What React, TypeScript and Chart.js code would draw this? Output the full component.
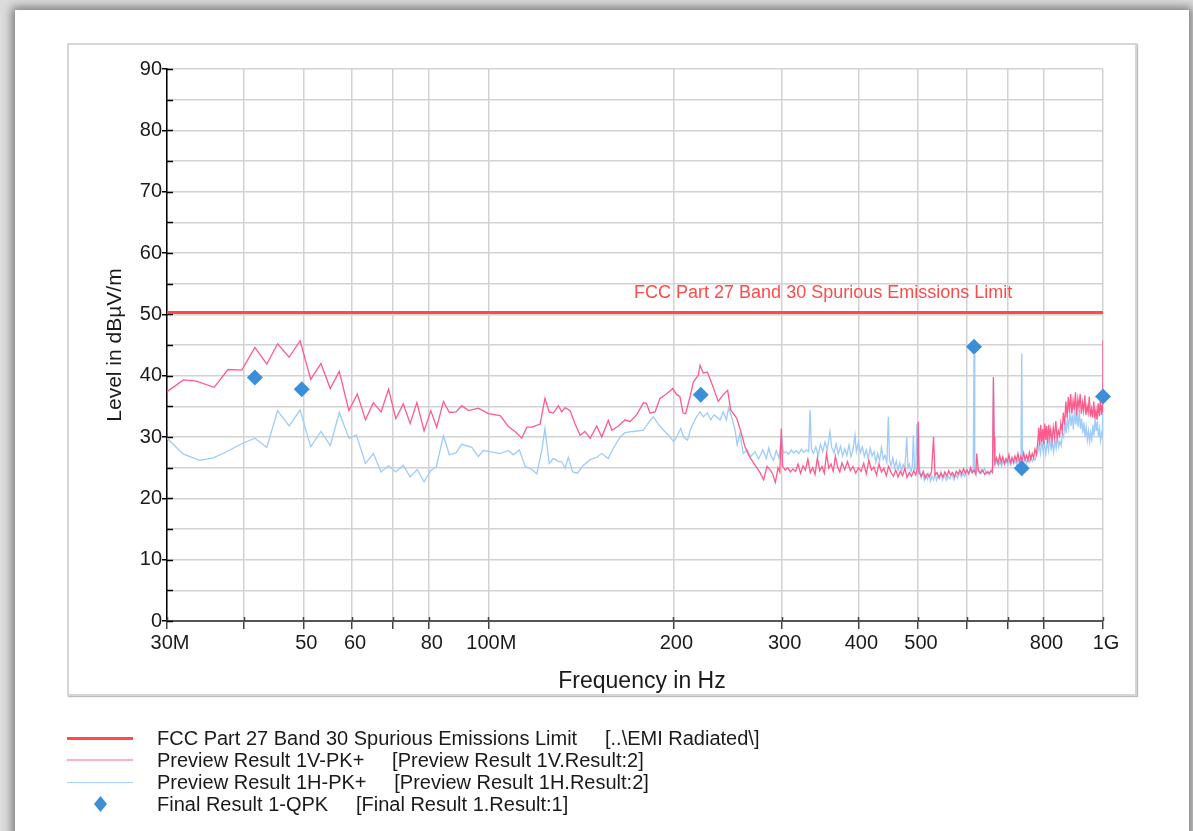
import React, { useEffect, useRef } from "react";
import { Chart, registerables } from "chart.js";

Chart.register(...registerables);

const FONT = '"Liberation Sans", Arial, sans-serif';

// ---- data (frequency in MHz, level in dBµV/m) ----
const limitFreq = [30, 1000];
const limitLevel = [50.3, 50.3];

const vFreq = [
  30, 31.9, 33.5, 35.8, 37.7, 39.7, 41.7, 43.6, 45.4, 47.4, 49.4, 51.4, 53.4, 55.3, 57.2, 59.3,
  61.2, 63.1, 65.0, 66.9, 68.8, 70.7, 72.7, 74.6, 76.5, 78.6, 80.6, 82.4, 84.5, 86.4, 88.6, 90.5,
  92.8, 96.3, 100, 104.5, 107.8, 110.5, 113.3, 115.5, 117.7, 121.4, 123.6, 125.6, 127.6, 130.0,
  131.6, 133.3, 135.8, 138.3, 141.0, 143.6, 146.4, 150.1, 152.9, 156.7, 158.8, 162.7, 166.9,
  170.0, 174.3, 178.7, 180.8, 183.2, 186.7, 190.2, 192.7, 195.2, 199.5, 202.5, 204.9, 207.4,
  209.4, 212.9, 215.6, 219.6, 221.0, 223.7, 227.1, 230.8, 236.6, 241.0, 245.1, 247.9, 253.5,
  257.5, 261.5, 266, 271.6, 277, 280.5, 284, 287.6,
  290, 293, 296, 298, 299.6, 301, 304, 307, 310, 313, 316, 319, 322, 325, 328, 331, 334, 337,
  340, 343, 346, 349, 352, 355, 358, 361, 364, 367, 370, 373, 376, 380, 384, 388, 392, 396,
  400, 404, 408, 412, 416, 420, 424, 428, 432, 436, 440, 444, 448, 452, 456, 460, 464, 468,
  472, 476, 480, 484, 488, 492, 496, 499, 500.5, 502, 506, 510, 514, 518, 522, 526, 530, 533,
  537, 541, 545, 549, 553, 557, 561, 565, 569, 573, 577, 581, 585, 589, 593, 597, 601, 605,
  609, 613, 617, 621, 623, 627, 632, 637, 642, 647, 652, 657, 661, 663.3, 665, 667, 671, 675,
  679, 683, 687, 691, 695, 699, 703, 707, 711, 715, 719, 723, 727, 731, 735, 739, 743, 747,
  751, 755, 759, 763, 767, 771, 775, 779, 783, 786, 789, 792, 795, 798, 801, 804, 807, 810,
  813, 816, 819, 822, 826, 830, 834, 838, 842, 846, 850, 854, 858, 862, 866, 870, 874, 878,
  882, 886, 890, 894, 898, 902, 906, 910, 914, 918, 922, 926, 930, 934, 938, 942, 946, 950,
  954, 958, 962, 966, 970, 974, 978, 982, 986, 990, 994, 997, 999, 1000,
];
const vLevel = [
  37.4, 39.3, 39.1, 38.1, 41.0, 40.9, 44.6, 41.9, 45.2, 43.0, 45.7, 39.4, 42.0, 37.9, 40.7, 34.3,
  37.0, 32.8, 35.6, 34.1, 37.8, 33.0, 35.4, 32.2, 35.6, 31.0, 34.3, 31.6, 35.8, 34.0, 34.1, 35.1,
  34.3, 34.7, 33.8, 33.5, 31.7, 30.9, 29.8, 31.6, 31.6, 32.1, 36.3, 34.1, 33.9, 35.1,
  34.1, 34.8, 34.3, 32.2, 30.3, 30.9, 29.8, 31.8, 30.0, 32.7, 31.1, 31.8, 32.8,
  32.5, 33.6, 35.6, 35.5, 33.9, 34.1, 36.3, 36.7, 37.1, 37.9, 36.9, 36.6, 33.9,
  33.8, 36.6, 39.0, 40.1, 41.7, 40.4, 40.6, 38.8, 35.8, 36.9, 37.6, 34.4, 33.1,
  30.9, 28.4, 26.8, 25.4, 24.1, 23.0, 25.2, 24.6,
  24.0, 22.6, 25.0, 24.3, 31.4, 25.3, 24.6, 25.0, 24.3, 24.8, 24.4, 25.6, 24.1, 25.3, 24.6, 26.4, 24.2, 25.0,
  23.9, 26.6, 24.5, 25.2, 24.1, 27.3, 24.9, 25.6, 24.4, 26.9, 25.1, 24.3, 25.8, 24.7, 26.0, 24.5, 25.2, 24.1,
  25.0, 24.4, 25.7, 24.0, 26.2, 24.6, 25.1, 23.8, 25.6, 24.3, 24.9, 23.7, 25.2, 24.2, 23.6, 24.6, 23.5, 24.4,
  23.7, 24.9, 23.4, 24.2, 23.6, 24.5, 23.8, 25.0, 32.5, 24.2, 23.6, 24.4, 23.3, 24.0, 23.5, 24.3, 30.0, 23.8,
  24.2, 23.4, 24.1, 23.5, 24.3, 23.6, 24.5, 23.8, 24.2, 23.5, 24.4, 23.9, 24.6, 24.0, 24.8, 24.1, 24.6, 24.0,
  25.0, 24.2, 24.6, 23.9, 27.3, 24.5, 24.1, 24.6, 23.9, 24.3, 24.0, 24.5, 24.2, 39.8, 30.0, 25.8, 26.6, 25.7,
  27.0, 25.9, 26.8, 25.6, 26.5, 26.0, 27.1, 25.8, 26.6, 25.9, 26.9, 26.2, 27.3, 26.0, 26.8, 26.1, 27.4, 26.3,
  27.0, 26.2, 27.5, 26.4, 27.3, 26.6, 28.0, 27.2, 29.0, 31.5, 28.6, 32.0, 29.2, 31.3, 28.8, 32.2, 29.5, 31.8,
  29.0, 32.0, 30.0, 31.2, 29.3, 31.6, 30.0, 32.6, 29.8, 31.0, 30.2, 32.3, 31.0, 34.0, 32.0, 35.8, 33.2, 36.5,
  34.0, 37.0, 33.8, 36.0, 34.5, 37.3, 33.5, 36.2, 34.8, 37.0, 33.8, 35.6, 34.2, 36.8, 33.6, 35.1, 34.0, 36.6,
  33.3, 34.6, 33.2, 35.8, 33.0, 34.4, 32.8, 35.5, 33.4, 36.0, 33.6, 35.2, 34.0, 45.8,
];

const hFreq = [
  30, 31.9, 33.9, 35.7, 37.5, 39.7, 41.7, 43.6, 45.4, 47.4, 49.4, 51.4, 53.4, 55.3, 57.2, 59.3,
  61.0, 63.1, 65.0, 66.9, 68.8, 70.7, 72.7, 74.6, 76.6, 78.6, 80.6, 82.3, 84.5, 86.4, 88.6, 90.5,
  94.0, 96.3, 98.1, 100.6, 104.5, 107.8, 109.8, 112.3, 114.8, 117.7, 119.9, 122.2, 123.6, 125.6,
  127.6, 130, 131.6, 133.3, 134.9, 137.2, 139.6, 142.8, 146.4, 150.1, 152.9, 156.7, 159.8, 163.8,
  166.9, 172.1, 178.7, 182.7, 185.5, 189, 192.7, 196.5, 200.3, 202.9, 205.6, 207.8, 210.9, 213,
  217.5, 221, 223.7, 227.1, 230, 232.9, 238.3, 241, 244, 246, 248.7, 252, 254, 256.6, 259.8,
  263.7, 267.2, 271.6, 275.1, 279.6, 283.3, 285.8,
  288, 291, 294, 297, 300, 302, 305, 308, 311, 314, 317, 320, 323, 326, 329, 332, 333.7, 335.5,
  338, 341, 344, 347, 350, 353, 356, 359.5, 362, 365, 368, 371, 374, 377, 380, 383, 386, 389,
  392, 394.9, 397, 400, 403, 406, 409, 412, 415, 418, 421, 424, 427, 430, 433, 436, 439, 442,
  445, 447.4, 449.5, 452, 455, 458, 461, 464, 467, 470, 473, 476, 479.4, 481.5, 484, 487, 489.5,
  491.4, 493.5, 496, 498, 500, 503, 506, 509, 512, 515, 518, 521, 524, 527, 530, 533, 536, 539,
  542, 545, 548, 552, 556, 560, 564, 568, 572, 576, 580, 584, 588, 592, 596, 600, 604, 608,
  612, 615, 616.8, 618.5, 622, 626, 630, 634, 638, 642, 646, 650, 654, 658, 661.5, 663.3, 665.5,
  668, 672, 676, 680, 684, 688, 692, 696, 700, 704, 708, 712, 716, 720, 724, 728, 732, 735.5,
  737.5, 739.5, 743, 747, 751, 755, 759, 763, 767, 771, 775, 779, 783, 787, 791, 795, 799, 803,
  807, 811, 815, 819, 823, 827, 831, 835, 839, 843, 847, 851, 855, 859, 863, 867, 871, 875,
  879, 883, 887, 891, 895, 899, 903, 907, 911, 915, 919, 923, 927, 931, 935, 939, 943, 947,
  951, 955, 959, 963, 967, 971, 975, 979, 983, 987, 991, 995, 998, 1000,
];
const hLevel = [
  29.8, 27.2, 26.2, 26.6, 27.6, 28.9, 29.8, 28.3, 34.3, 31.8, 34.4, 28.4, 30.9, 28.6, 34.0, 29.8,
  30.3, 25.7, 27.3, 24.3, 25.3, 24.3, 25.4, 23.5, 24.7, 22.7, 24.5, 25.2, 30.2, 27.1, 27.4, 28.8,
  28.3, 26.8, 27.8, 27.6, 27.3, 27.8, 27.1, 27.9, 25.2, 24.7, 24.0, 27.9, 31.4, 25.7,
  26.5, 26.0, 26.0, 24.9, 26.7, 24.3, 24.1, 25.4, 26.3, 26.7, 27.3, 26.5, 28.2, 30.0,
  30.7, 30.9, 31.1, 32.5, 33.3, 32.1, 31.1, 30.3, 29.2, 30.2, 31.4, 30.0, 29.5, 31.1,
  33.1, 34.1, 33.3, 33.9, 32.8, 33.6, 32.8, 34.1, 32.8, 34.8, 33.3, 31.1, 28.7, 30.6, 27.3,
  27.9, 26.8, 27.6, 26.4, 27.9, 26.5, 28.2,
  27.0, 26.2, 27.8, 26.6, 30.3, 27.4, 27.6, 27.2, 27.9, 27.4, 27.8, 27.3, 28.0, 27.5, 27.9, 27.6, 34.4, 28.0,
  27.3, 28.4, 27.0, 28.8, 27.6, 29.2, 27.9, 30.9, 28.3, 27.4, 28.9, 27.2, 28.5, 26.9, 28.1, 27.0, 28.7, 26.8,
  28.0, 30.3, 27.6, 29.1, 27.4, 28.4, 26.8, 27.9, 26.5, 28.2, 26.9, 27.6, 25.9, 27.3, 26.1, 28.3, 26.4, 27.0,
  25.8, 33.3, 26.2, 25.3, 26.6, 25.0, 26.1, 24.6, 25.8, 24.4, 25.5, 24.8, 30.0, 24.9, 25.6, 24.3, 25.2,
  30.3, 24.6, 25.0, 32.1, 24.0, 24.8, 23.3, 24.2, 22.9, 23.8, 23.1, 24.0, 22.8, 23.6, 23.0, 24.1, 22.9, 23.7,
  23.2, 24.3, 23.0, 23.8, 22.9, 23.6, 23.2, 24.1, 23.0, 23.9, 23.3, 24.4, 23.5, 24.0, 23.6, 24.8, 23.9, 24.6,
  24.1, 24.8, 43.4, 24.5, 24.2, 25.0, 24.1, 24.7, 24.3, 24.9, 24.0, 24.5, 23.9, 24.6, 25.0, 39.3, 26.0,
  25.4, 26.2, 25.3, 26.0, 25.2, 26.4, 25.6, 26.1, 25.4, 26.3, 25.5, 26.6, 25.6, 26.2, 25.4, 26.5, 25.7, 26.3,
  43.6, 26.0, 25.8, 26.6, 25.7, 26.4, 25.9, 26.8, 26.0, 26.5, 26.2, 27.0, 27.5, 28.8, 27.3, 29.6, 27.6, 29.0,
  27.2, 29.4, 27.8, 29.9, 28.0, 29.1, 27.5, 29.7, 28.2, 30.0, 28.4, 29.3, 28.6, 30.5, 30.0, 32.4, 30.6, 33.0,
  31.5, 34.2, 31.8, 33.6, 31.2, 34.6, 32.0, 33.8, 31.6, 34.4, 31.3, 33.0, 30.6, 32.4, 30.0, 31.6, 29.5, 31.0,
  29.2, 30.8, 29.6, 32.0, 30.2, 33.0, 31.0, 32.6, 30.0, 31.4, 29.4, 30.6, 29.8, 40.6,
];

const finalFreq = [41.7, 49.7, 221.6, 616.8, 737.5, 1000];
const finalLevel = [39.7, 37.8, 36.9, 44.7, 24.9, 36.6];

const xTickValues = [30, 40, 50, 60, 70, 80, 100, 200, 300, 400, 500, 600, 700, 800, 1000];
const xTickLabels = ["30M", "", "50", "60", "", "80", "100M", "200", "300", "400", "500", "", "", "800", "1G"];

const xTitle = "Frequency in Hz";
const yTitle = "Level in dBµV/m";
const limitLabel = "FCC Part 27 Band 30 Spurious Emissions Limit";
const limitLabelFreq = 172.6;

const legendNames = [
  "FCC Part 27 Band 30 Spurious Emissions Limit     [..\\EMI Radiated\\]",
  "Preview Result 1V-PK+     [Preview Result 1V.Result:2]",
  "Preview Result 1H-PK+     [Preview Result 1H.Result:2]",
  "Final Result 1-QPK     [Final Result 1.Result:1]",
];
const legendRowsY = [738, 760, 782, 804];

const RED = "#ff4a4a";
const PINK = "#ff5a8c";
const BLUE = "#9ecbfa";
const DIAMOND = "#3b8fd9";

const toXY = (xs: number[], ys: number[]) => xs.map((x, i) => ({ x, y: ys[i] }));

const extrasPlugin = {
  id: "extras",
  beforeDatasetsDraw(chart: any) {
    const { ctx, scales, chartArea } = chart;
    ctx.save();
    ctx.lineWidth = 1.5;
    ctx.strokeStyle = "#000";
    for (const t of scales.y.ticks) {
      const y = Math.round(scales.y.getPixelForValue(t.value)) + 0.5;
      ctx.beginPath();
      ctx.moveTo(chartArea.left, y);
      ctx.lineTo(chartArea.left + 6, y);
      ctx.stroke();
    }
    ctx.strokeStyle = "#444";
    for (const t of scales.x.ticks) {
      const x = Math.round(scales.x.getPixelForValue(t.value)) + 0.5;
      ctx.beginPath();
      ctx.moveTo(x, chartArea.bottom);
      ctx.lineTo(x, chartArea.bottom - 4);
      ctx.stroke();
    }
    ctx.restore();
  },
  afterDatasetsDraw(chart: any) {
    const { ctx, scales, chartArea } = chart;
    ctx.save();
    ctx.font = `18px ${FONT}`;
    ctx.fillStyle = RED;
    ctx.textAlign = "left";
    ctx.textBaseline = "middle";
    ctx.fillText(
      limitLabel,
      scales.x.getPixelForValue(limitLabelFreq),
      scales.y.getPixelForValue(limitLevel[0]) - 19
    );
    // x-axis title
    ctx.font = `23px ${FONT}`;
    ctx.fillStyle = "#1a1a1a";
    ctx.textAlign = "center";
    ctx.fillText(xTitle, (chartArea.left + chartArea.right) / 2 + 7, chartArea.bottom + 61);
    ctx.restore();
  },
};

function ChartCanvas() {
  const ref = useRef<HTMLCanvasElement | null>(null);
  useEffect(() => {
    if (!ref.current) return;
    const chart = new Chart(ref.current, {
      type: "line",
      data: {
        datasets: [
          {
            label: "final",
            data: toXY(finalFreq, finalLevel),
            showLine: false,
            pointStyle: "rectRot",
            pointRadius: 8,
            pointBackgroundColor: DIAMOND,
            pointBorderColor: DIAMOND,
            pointBorderWidth: 0,
            order: 0,
            clip: false,
          },
          {
            label: "limit",
            data: toXY(limitFreq, limitLevel),
            borderColor: RED,
            borderWidth: 3,
            pointRadius: 0,
            order: 1,
          },
          {
            label: "V",
            data: toXY(vFreq, vLevel),
            borderColor: PINK,
            borderWidth: 1.3,
            pointRadius: 0,
            tension: 0,
            order: 2,
          },
          {
            label: "H",
            data: toXY(hFreq, hLevel),
            borderColor: BLUE,
            borderWidth: 1.3,
            pointRadius: 0,
            tension: 0,
            order: 3,
          },
        ],
      },
      options: {
        animation: false,
        responsive: false,
        devicePixelRatio: 1,
        events: [],
        layout: { padding: { left: 103, top: 69, right: 90, bottom: 130 } },
        plugins: { legend: { display: false }, tooltip: { enabled: false } },
        scales: {
          x: {
            type: "logarithmic",
            min: 30,
            max: 1000,
            afterBuildTicks: (scale: any) => {
              scale.ticks = xTickValues.map((v) => ({ value: v }));
            },
            afterFit: (scale: any) => {
              scale.height = 80;
            },
            ticks: {
              autoSkip: false,
              maxRotation: 0,
              minRotation: 0,
              padding: 2,
              labelOffset: 3,
              color: "#1a1a1a",
              font: { family: FONT, size: 20 },
              callback: (_v: any, i: number) => xTickLabels[i],
            },
            grid: {
              color: "#d2d2d2",
              lineWidth: 1.5,
              tickColor: "#444",
              tickLength: 8,
            },
            border: { color: "#555", width: 2 },
            title: { display: false },
          },
          y: {
            type: "linear",
            min: 0,
            max: 90,
            afterFit: (scale: any) => {
              scale.width = 64;
            },
            ticks: {
              stepSize: 5,
              padding: 0,
              color: "#1a1a1a",
              font: { family: FONT, size: 20 },
              callback: (v: any) => (Number(v) % 10 === 0 ? String(v) : ""),
            },
            grid: {
              color: "#d2d2d2",
              lineWidth: 1.5,
              tickLength: 5,
              tickColor: (c: any) =>
                c.tick && c.tick.value % 10 === 0 ? "#000" : "rgba(0,0,0,0)",
            },
            border: { color: "#000", width: 1.5 },
            title: {
              display: true,
              text: yTitle,
              color: "#1a1a1a",
              font: { family: FONT, size: 21 },
              padding: { top: 0, bottom: 0 },
            },
          },
        },
      },
      plugins: [extrasPlugin],
    } as any);
    return () => chart.destroy();
  }, []);
  return (
    <canvas
      ref={ref}
      width={1193}
      height={831}
      style={{ position: "absolute", left: 0, top: 0, width: 1193, height: 831, display: "block" }}
    />
  );
}

function LegendMarker({ index, y }: { index: number; y: number }) {
  if (index === 0)
    return <div style={{ position: "absolute", left: 67, top: y - 1.5, width: 66, height: 3, background: RED }} />;
  if (index === 1)
    return <div style={{ position: "absolute", left: 67, top: y - 1, width: 66, height: 2, background: "#ffb0c8" }} />;
  if (index === 2)
    return <div style={{ position: "absolute", left: 67, top: y - 0.5, width: 66, height: 1, background: "#a8d2ff" }} />;
  return (
    <div
      style={{
        position: "absolute",
        left: 94,
        top: y - 8,
        width: 13,
        height: 16,
        background: DIAMOND,
        clipPath: "polygon(50% 0, 100% 50%, 50% 100%, 0 50%)",
      }}
    />
  );
}

export default function App() {
  return (
    <div
      style={{
        position: "fixed",
        left: 0,
        top: 0,
        width: 1193,
        height: 831,
        background: "#dcdcdc",
        overflow: "hidden",
      }}
    >
      <div
        style={{
          position: "absolute",
          left: 15,
          top: 10,
          width: 1174,
          height: 840,
          background: "#fff",
          boxShadow: "0 0 9px 3px rgba(0,0,0,0.45)",
        }}
      />
      <div
        style={{
          position: "absolute",
          left: 67,
          top: 43,
          width: 1066,
          height: 649,
          border: "2px solid #d6d6d6",
          boxShadow: "1px 1px 1px #bdbdbd",
          background: "#fff",
        }}
      />
      <ChartCanvas />
      {legendNames.map((name, i) => (
        <React.Fragment key={i}>
          <LegendMarker index={i} y={legendRowsY[i]} />
          <div
            style={{
              position: "absolute",
              left: 157,
              top: legendRowsY[i] - 12,
              height: 24,
              lineHeight: "24px",
              fontFamily: FONT,
              fontSize: 20,
              color: "#1a1a1a",
              whiteSpace: "pre",
            }}
          >
            {name}
          </div>
        </React.Fragment>
      ))}
    </div>
  );
}
